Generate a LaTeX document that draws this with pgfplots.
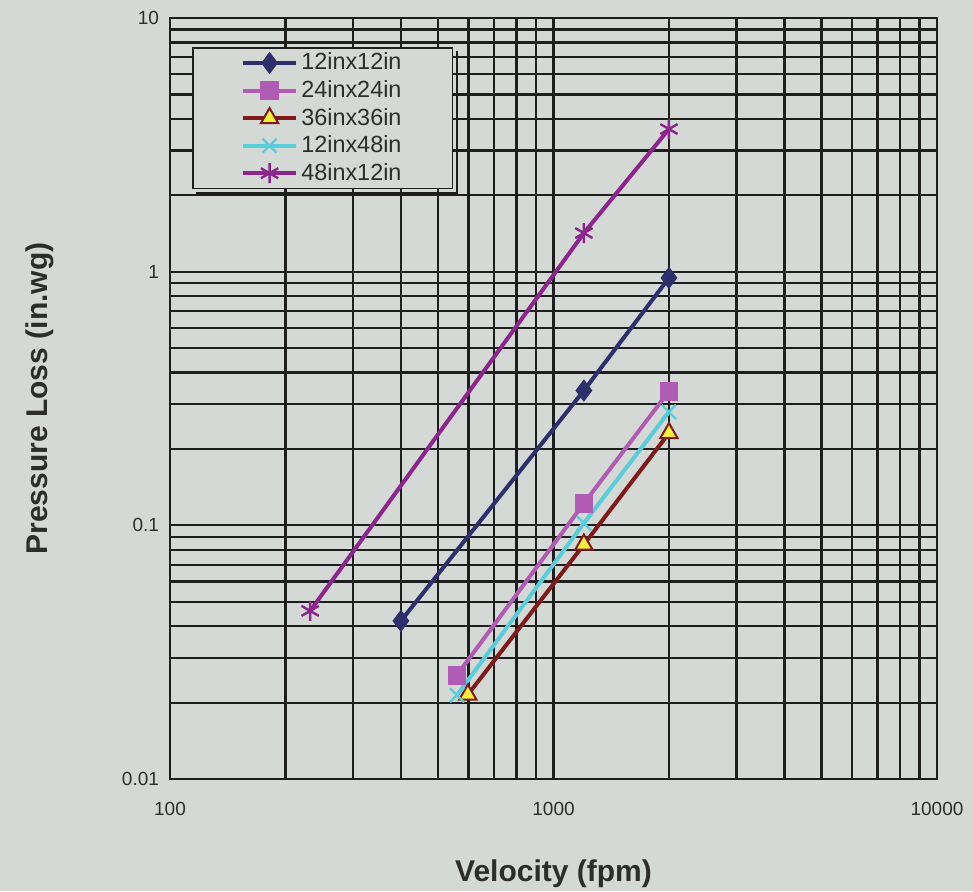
\documentclass[border=0pt]{standalone}
\usepackage{pgfplots}
\pgfplotsset{compat=1.18}
\usepackage{fontspec}
\setmainfont{Liberation Sans}
\definecolor{bg}{RGB}{213,217,213}
\definecolor{txt}{RGB}{45,45,45}
\definecolor{cA}{RGB}{46,48,110}
\definecolor{cB}{RGB}{176,92,180}
\definecolor{cC}{RGB}{128,26,26}
\definecolor{cD}{RGB}{90,205,218}
\definecolor{cE}{RGB}{140,38,142}
\definecolor{yel}{RGB}{250,240,60}
\definecolor{gridc}{RGB}{30,30,30}
\begin{document}
\begin{tikzpicture}
\path[use as bounding box, fill=bg] (-85pt,-56pt) rectangle (401.5pt,389.5pt);
\begin{axis}[
 at={(0,0)}, anchor=south west,
 scale only axis, width=383.5pt, height=380.5pt,
 xmode=log, ymode=log, xmin=100, xmax=10000, ymin=0.01, ymax=10,
 xtick={100,1000,10000}, xticklabels={100,1000,10000},
 ytick={0.01,0.1,1,10}, yticklabels={0.01,0.1,1,10},
 minor xtick={200,300,400,500,600,700,800,900,2000,3000,4000,5000,6000,7000,8000,9000},
 minor ytick={0.02,0.03,0.04,0.05,0.06,0.07,0.08,0.09,0.2,0.3,0.4,0.5,0.6,0.7,0.8,0.9,2,3,4,5,6,7,8,9},
 grid=both,
 major grid style={gridc, line width=1.15pt},
 minor grid style={gridc, line width=1.15pt},
 major tick length=0pt, minor tick length=0pt,
 axis line style={gridc, line width=1pt},
 ticklabel style={font=\fontsize{9.5}{11}\selectfont, text=txt},
 /pgf/number format/assume math mode=true,
 xticklabel style={yshift=-8pt},
 yticklabel style={xshift=-2pt},
 xlabel={Velocity (fpm)}, ylabel={Pressure Loss (in.wg)},
 label style={font=\bfseries\fontsize{15}{18}\selectfont, text=txt},
 xlabel style={at={(axis description cs:0.5,-0.1249)}, anchor=center},
 ylabel style={at={(axis description cs:-0.1695,0.5)}, anchor=center},
 legend style={name=leg, at={(axis description cs:0.0287,0.9619)}, anchor=north west,
   fill=bg, draw=gridc, line width=0.8pt, text=txt,
   font=\fontsize{11.7}{13}\selectfont,
   inner xsep=24pt, inner ysep=1.6pt, row sep=1.8pt, nodes={inner xsep=1.5pt, inner ysep=1pt}},
 legend cell align=left,
 legend image code/.code={\draw[mark repeat=2, mark phase=2] plot coordinates {(0cm,0cm) (0.47cm,0cm) (0.94cm,0cm)};},
]
\addplot[cA, line width=2pt, mark=diamond*, mark size=5.2pt, mark options={fill=cA, draw=cA, line width=0.5pt}]
 coordinates {(400,0.042) (1200,0.34) (2000,0.945)};
\addlegendentry{12inx12in}
\addplot[cB, line width=2pt, mark=square*, mark size=4.4pt, mark options={fill=cB, draw=cB, line width=0.3pt}]
 coordinates {(560,0.0257) (1200,0.122) (2000,0.338)};
\addlegendentry{24inx24in}
\addplot[cC, line width=2pt, mark=triangle*, mark size=5pt, mark options={fill=yel, draw=cC, line width=1pt}]
 coordinates {(598,0.0215) (1200,0.084) (2000,0.231)};
\addlegendentry{36inx36in}
\addplot[cD, line width=2pt, mark=x, mark size=5pt, mark options={line width=1.2pt}]
 coordinates {(560,0.0214) (1200,0.102) (2000,0.28)};
\addlegendentry{12inx48in}
\addplot[cE, line width=2pt, mark=asterisk, mark size=5pt, mark options={line width=1.2pt}]
 coordinates {(232,0.046) (1200,1.42) (2000,3.65)};
\addlegendentry{48inx12in}
\end{axis}
\draw[gridc, line width=1.2pt] ([shift={(2pt,-2pt)}]leg.north east) -- ([shift={(2pt,-2pt)}]leg.south east) -- ([shift={(2pt,-2pt)}]leg.south west);
\end{tikzpicture}
\end{document}
